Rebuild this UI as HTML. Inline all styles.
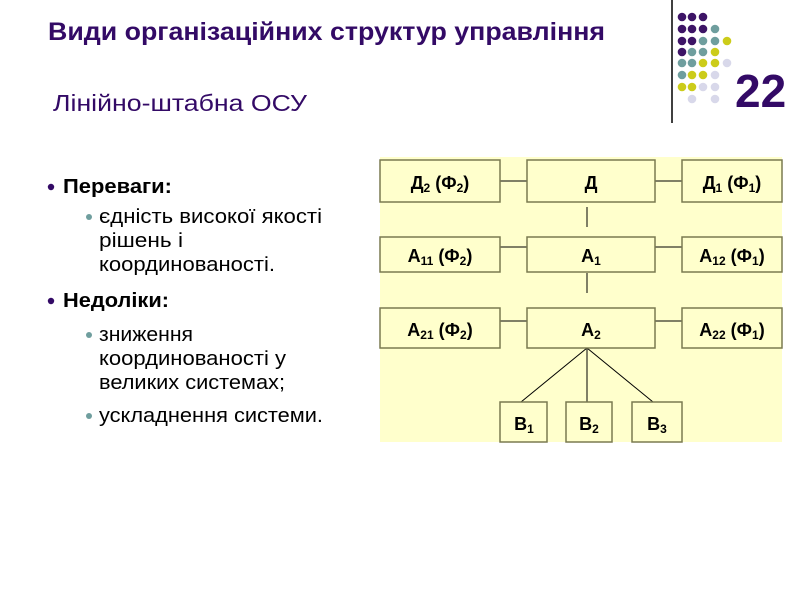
<!DOCTYPE html>
<html><head><meta charset="utf-8"><style>
body{margin:0;width:800px;height:600px;background:#fff;overflow:hidden;font-family:"Liberation Sans",sans-serif}
svg{position:absolute;left:0;top:0}
</style></head><body>
<svg width="800" height="600" viewBox="0 0 800 600" font-family="Liberation Sans, sans-serif">
<text x="48" y="40" font-size="25" font-weight="bold" fill="#330a66" textLength="557" lengthAdjust="spacingAndGlyphs">Види організаційних структур управління</text>
<text x="53" y="111" font-size="23" fill="#330a66" textLength="254" lengthAdjust="spacingAndGlyphs">Лінійно-штабна ОСУ</text>
<line x1="672" y1="0" x2="672" y2="123" stroke="#000" stroke-width="1.5"/>
<g>
<circle cx="682" cy="17" r="4.3" fill="#3d1466"/><circle cx="692" cy="17" r="4.3" fill="#3d1466"/><circle cx="703" cy="17" r="4.3" fill="#3d1466"/>
<circle cx="682" cy="29" r="4.3" fill="#3d1466"/><circle cx="692" cy="29" r="4.3" fill="#3d1466"/><circle cx="703" cy="29" r="4.3" fill="#3d1466"/><circle cx="715" cy="29" r="4.3" fill="#6f9e9e"/>
<circle cx="682" cy="41" r="4.3" fill="#3d1466"/><circle cx="692" cy="41" r="4.3" fill="#3d1466"/><circle cx="703" cy="41" r="4.3" fill="#6f9e9e"/><circle cx="715" cy="41" r="4.3" fill="#6f9e9e"/><circle cx="727" cy="41" r="4.3" fill="#cccc1a"/>
<circle cx="682" cy="52" r="4.3" fill="#3d1466"/><circle cx="692" cy="52" r="4.3" fill="#6f9e9e"/><circle cx="703" cy="52" r="4.3" fill="#6f9e9e"/><circle cx="715" cy="52" r="4.3" fill="#cccc1a"/>
<circle cx="682" cy="63" r="4.3" fill="#6f9e9e"/><circle cx="692" cy="63" r="4.3" fill="#6f9e9e"/><circle cx="703" cy="63" r="4.3" fill="#cccc1a"/><circle cx="715" cy="63" r="4.3" fill="#cccc1a"/><circle cx="727" cy="63" r="4.3" fill="#d8d8ea"/>
<circle cx="682" cy="75" r="4.3" fill="#6f9e9e"/><circle cx="692" cy="75" r="4.3" fill="#cccc1a"/><circle cx="703" cy="75" r="4.3" fill="#cccc1a"/><circle cx="715" cy="75" r="4.3" fill="#d8d8ea"/>
<circle cx="682" cy="87" r="4.3" fill="#cccc1a"/><circle cx="692" cy="87" r="4.3" fill="#cccc1a"/><circle cx="703" cy="87" r="4.3" fill="#d8d8ea"/><circle cx="715" cy="87" r="4.3" fill="#d8d8ea"/>
<circle cx="692" cy="99" r="4.3" fill="#d8d8ea"/><circle cx="715" cy="99" r="4.3" fill="#d8d8ea"/>
</g>
<text x="735" y="107" font-size="46" font-weight="bold" fill="#330a66">22</text>

<g font-size="20" lengthAdjust="spacingAndGlyphs">
<circle cx="51" cy="187" r="3.2" fill="#330a66"/>
<text x="63" y="193" font-weight="bold" textLength="109" lengthAdjust="spacingAndGlyphs">Переваги:</text>
<circle cx="89" cy="217" r="3" fill="#6f9e9e"/>
<text x="99" y="223" textLength="223" lengthAdjust="spacingAndGlyphs">єдність високої якості</text>
<text x="99" y="247" textLength="84" lengthAdjust="spacingAndGlyphs">рішень і</text>
<text x="99" y="271" textLength="176" lengthAdjust="spacingAndGlyphs">координованості.</text>
<circle cx="51" cy="301" r="3.2" fill="#330a66"/>
<text x="63" y="307" font-weight="bold" textLength="106" lengthAdjust="spacingAndGlyphs">Недоліки:</text>
<circle cx="89" cy="335" r="3" fill="#6f9e9e"/>
<text x="99" y="341" textLength="94" lengthAdjust="spacingAndGlyphs">зниження</text>
<text x="99" y="365" textLength="187" lengthAdjust="spacingAndGlyphs">координованості у</text>
<text x="99" y="389" textLength="186" lengthAdjust="spacingAndGlyphs">великих системах;</text>
<circle cx="89" cy="416" r="3" fill="#6f9e9e"/>
<text x="99" y="422" textLength="224" lengthAdjust="spacingAndGlyphs">ускладнення  системи.</text>
</g>

<rect x="380" y="157" width="402" height="285" fill="#ffffcc"/>
<g stroke="#000" stroke-width="1" fill="none">
<line x1="500" y1="181" x2="527" y2="181"/><line x1="655" y1="181" x2="682" y2="181"/>
<line x1="587" y1="207" x2="587" y2="227"/>
<line x1="500" y1="247" x2="527" y2="247"/><line x1="655" y1="247" x2="682" y2="247"/>
<line x1="587" y1="273" x2="587" y2="293"/>
<line x1="500" y1="321" x2="527" y2="321"/><line x1="655" y1="321" x2="682" y2="321"/>
<line x1="587" y1="348" x2="521" y2="402"/><line x1="587" y1="348" x2="587" y2="402"/><line x1="587" y1="348" x2="653" y2="402"/>
</g>
<g fill="#ffffcc" stroke="#7a7a50" stroke-width="1.5">
<rect x="380" y="160" width="120" height="42"/><rect x="527" y="160" width="128" height="42"/><rect x="682" y="160" width="100" height="42"/>
<rect x="380" y="237" width="120" height="35"/><rect x="527" y="237" width="128" height="35"/><rect x="682" y="237" width="100" height="35"/>
<rect x="380" y="308" width="120" height="40"/><rect x="527" y="308" width="128" height="40"/><rect x="682" y="308" width="100" height="40"/>
<rect x="500" y="402" width="47" height="40"/><rect x="566" y="402" width="46" height="40"/><rect x="632" y="402" width="50" height="40"/>
</g>
<g font-size="18" font-weight="bold" text-anchor="middle" fill="#000">
<text x="440" y="189">Д<tspan font-size="12" dy="3">2</tspan><tspan dy="-3"> (Ф</tspan><tspan font-size="12" dy="3">2</tspan><tspan dy="-3">)</tspan></text>
<text x="591" y="189">Д</text>
<text x="732" y="189">Д<tspan font-size="12" dy="3">1</tspan><tspan dy="-3"> (Ф</tspan><tspan font-size="12" dy="3">1</tspan><tspan dy="-3">)</tspan></text>
<text x="440" y="262">А<tspan font-size="12" dy="3">11</tspan><tspan dy="-3">  (Ф</tspan><tspan font-size="12" dy="3">2</tspan><tspan dy="-3">)</tspan></text>
<text x="591" y="262">А<tspan font-size="12" dy="3">1</tspan></text>
<text x="732" y="262">А<tspan font-size="12" dy="3">12</tspan><tspan dy="-3"> (Ф</tspan><tspan font-size="12" dy="3">1</tspan><tspan dy="-3">)</tspan></text>
<text x="440" y="336">А<tspan font-size="12" dy="3">21</tspan><tspan dy="-3"> (Ф</tspan><tspan font-size="12" dy="3">2</tspan><tspan dy="-3">)</tspan></text>
<text x="591" y="336">А<tspan font-size="12" dy="3">2</tspan></text>
<text x="732" y="336">А<tspan font-size="12" dy="3">22</tspan><tspan dy="-3"> (Ф</tspan><tspan font-size="12" dy="3">1</tspan><tspan dy="-3">)</tspan></text>
<text x="524" y="430">В<tspan font-size="12" dy="3">1</tspan></text>
<text x="589" y="430">В<tspan font-size="12" dy="3">2</tspan></text>
<text x="657" y="430">В<tspan font-size="12" dy="3">3</tspan></text>
</g>
</svg>
</body></html>
